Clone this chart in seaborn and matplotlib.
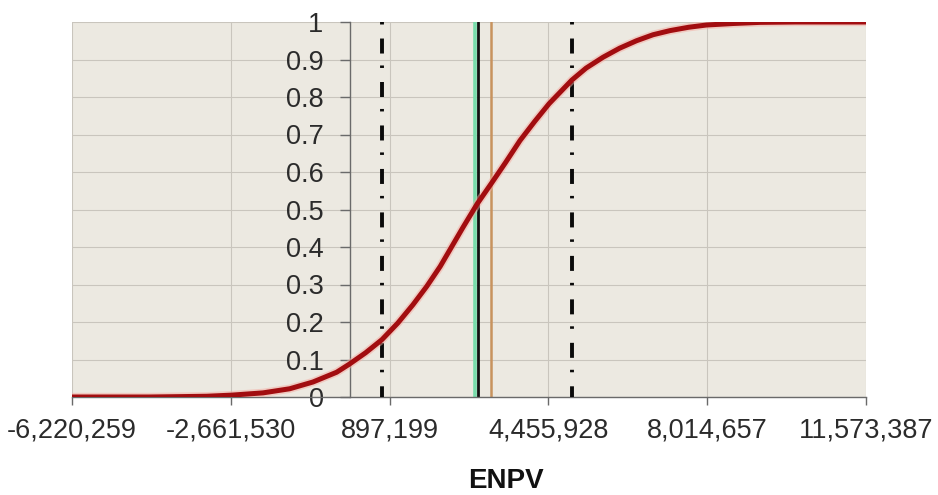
import matplotlib
matplotlib.use("Agg")
import matplotlib.pyplot as plt
import pandas as pd
import seaborn as sns

# Cumulative probability of ENPV
enpv = [-6220259, -4500000, -3800000, -3200000, -2640000, -1940000, -1340000,
        -820000, -290000, 0, 360000, 726000, 1080000, 1420000, 1730000, 2030000,
        2540000, 2860000, 3180000, 3500000, 3820000, 4150000, 4470000, 4980000,
        5300000, 5680000, 6050000, 6430000, 6800000, 7180000, 7600000, 8000000,
        8600000, 9200000, 10000000, 11573387]
cum_prob = [0.0, 0.0, 0.001, 0.002, 0.005, 0.011, 0.022, 0.040, 0.066, 0.088,
            0.118, 0.153, 0.197, 0.246, 0.295, 0.348, 0.452, 0.515, 0.57, 0.626,
            0.684, 0.735, 0.782, 0.845, 0.877, 0.906, 0.93, 0.95, 0.966, 0.977,
            0.986, 0.992, 0.996, 0.999, 1.0, 1.0]

# Reference markers
lower_band = 726000
upper_band = 4980000
mode_value = 2810000
median_value = 2880000
mean_value = 3170000

x_ticks = [-6220259, -2661530, 897199, 4455928, 8014657, 11573387]
x_tick_labels = ["-6,220,259", "-2,661,530", "897,199", "4,455,928",
                 "8,014,657", "11,573,387"]
y_ticks = [0, 0.1, 0.2, 0.3, 0.4, 0.5, 0.6, 0.7, 0.8, 0.9, 1.0]
y_tick_labels = ["0", "0.1", "0.2", "0.3", "0.4", "0.5", "0.6", "0.7",
                 "0.8", "0.9", "1"]
x_title = "ENPV"

sns.set_style("white")
plt.rcParams["font.family"] = ["Liberation Sans", "DejaVu Sans"]
plt.rcParams["lines.scale_dashes"] = False

df = pd.DataFrame({"ENPV": enpv, "P": cum_prob})

W, H = 938, 495
fig = plt.figure(figsize=(W / 100, H / 100), dpi=100)
left, right, top, bottom = 72, 866, 22, 397
ax = fig.add_axes([left / W, 1 - bottom / H, (right - left) / W, (bottom - top) / H])
ax.set_facecolor("#ECE9E1")

ax.set_xlim(x_ticks[0], x_ticks[-1])
ax.set_ylim(0, 1)
ax.set_xticks(x_ticks)
ax.set_xticklabels(x_tick_labels)
ax.set_yticks(y_ticks)
ax.set_yticklabels(y_tick_labels)
ax.grid(True, color="#c9c5bd", lw=0.8)
ax.set_axisbelow(True)

# vertical markers
ax.axvline(mode_value, color="#78dcab", lw=2.6, zorder=2)
ax.axvline(median_value, color="#101010", lw=2.0, zorder=2)
ax.axvline(mean_value, color="#c8935e", lw=1.8, zorder=2)
for xv in (lower_band, upper_band):
    ax.plot([xv, xv], [1, 0], color="#0a0a0a", lw=2.8,
            dashes=(1.8, 10.1, 10.8, 8.6), dash_capstyle="butt", zorder=3)

# cumulative curve with soft halo
sns.lineplot(data=df, x="ENPV", y="P", ax=ax, color="#f4aaa0", lw=6.0,
             alpha=0.5, sort=False, estimator=None, zorder=4)
sns.lineplot(data=df, x="ENPV", y="P", ax=ax, color="#a20d10", lw=3.6,
             sort=False, estimator=None, zorder=5)

ax.set_xlabel("")
ax.set_ylabel("")
for s in ("top", "right"):
    ax.spines[s].set_visible(False)
ax.spines["left"].set_position(("data", 0))
ax.spines["left"].set_color("#6a6a6a")
ax.spines["bottom"].set_color("#6a6a6a")
ax.spines["left"].set_linewidth(1.0)
ax.spines["bottom"].set_linewidth(1.0)
ax.spines["left"].set_zorder(1)

ax.tick_params(axis="y", direction="out", length=7.2, width=1, color="#6a6a6a",
               pad=11.5, labelsize=19.5, labelcolor="#2b2b2b", left=True)
ax.tick_params(axis="x", direction="out", length=6, width=1, color="#6a6a6a",
               pad=9, labelsize=19.5, labelcolor="#2b2b2b", bottom=True)

fig.text(506 / W, 1 - 481.5 / H, x_title, ha="center", va="center",
         fontsize=20, fontweight="bold", color="#111111")

fig.savefig("out.png", dpi=100, facecolor="white")
